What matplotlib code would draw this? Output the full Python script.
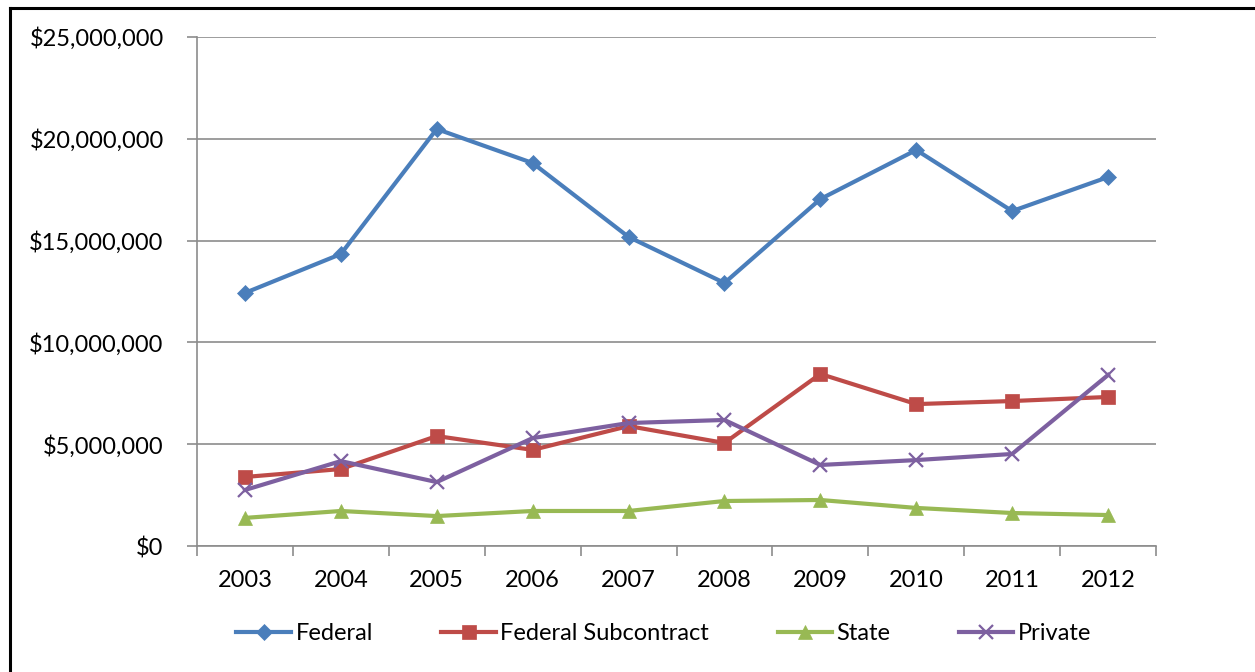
import matplotlib.pyplot as plt
from matplotlib.lines import Line2D
from matplotlib.ticker import FuncFormatter, FixedLocator

years = ["2003", "2004", "2005", "2006", "2007", "2008", "2009", "2010", "2011", "2012"]
federal = [12.43, 14.34, 20.48, 18.81, 15.18, 12.92, 17.04, 19.45, 16.45, 18.12]
federal_sub = [3.39, 3.78, 5.40, 4.72, 5.89, 5.06, 8.45, 6.97, 7.12, 7.32]
state = [1.38, 1.72, 1.47, 1.72, 1.72, 2.21, 2.26, 1.87, 1.62, 1.52]
private = [2.75, 4.17, 3.14, 5.30, 6.04, 6.19, 3.98, 4.22, 4.52, 8.40]

plt.rcParams['font.family'] = ['Lato', 'DejaVu Sans']

fig = plt.figure(figsize=(12.55, 6.72), dpi=100)
ax = fig.add_axes([197 / 1255, 1 - 546 / 672, (1156 - 197) / 1255, (546 - 37) / 672])

x = list(range(len(years)))
scale = 1e6
series = [
    (federal, "Federal", "#4A7EBB", "D", 8),
    (federal_sub, "Federal Subcontract", "#BE4B48", "s", 10),
    (state, "State", "#98B954", "^", 10),
    (private, "Private", "#7D60A0", "x", 10),
]
for vals, name, col, mk, ms in series:
    ax.plot(x, [v * scale for v in vals], color=col, lw=3.0, marker=mk, ms=ms,
            mew=1.6 if mk == "x" else 0.5, mec=col, mfc=col, label=name, zorder=3)

ax.set_xlim(-0.5, 9.5)
ax.set_ylim(0, 25e6)
ax.set_yticks([i * 5e6 for i in range(6)])
ax.yaxis.set_major_formatter(FuncFormatter(lambda v, p: "${:,.0f}".format(v)))
ax.grid(axis='y', color='#8c8c8c', lw=1.2)
ax.set_axisbelow(True)

ax.xaxis.set_major_locator(FixedLocator([i - 0.5 for i in range(11)]))
ax.xaxis.set_minor_locator(FixedLocator(x))
ax.set_xticklabels([])
ax.set_xticklabels(years, minor=True)
ax.tick_params(axis='x', which='major', length=7, color='#8c8c8c', width=1.2)
ax.tick_params(axis='x', which='minor', length=0, pad=17, labelsize=17)
ax.tick_params(axis='y', length=7, color='#8c8c8c', width=1.2, labelsize=17, pad=17)

for s in ['top', 'right']:
    ax.spines[s].set_visible(False)
for s in ['left', 'bottom']:
    ax.spines[s].set_color('#8c8c8c')
    ax.spines[s].set_linewidth(1.2)

ax.legend(loc='center', bbox_to_anchor=(664 / 1255, 1 - 634 / 672), bbox_transform=fig.transFigure,
          ncol=4, frameon=False, fontsize=17, handlelength=2.3, columnspacing=2.9, handletextpad=0.2)

# outer chart border (left and top visible)
fig.add_artist(Line2D([10 / 1255, 10 / 1255], [0, 1 - 8 / 672], color='black', lw=2.2, transform=fig.transFigure))
fig.add_artist(Line2D([10 / 1255, 1], [1 - 8 / 672, 1 - 8 / 672], color='black', lw=2.2, transform=fig.transFigure))

fig.savefig("out.png", dpi=100)
